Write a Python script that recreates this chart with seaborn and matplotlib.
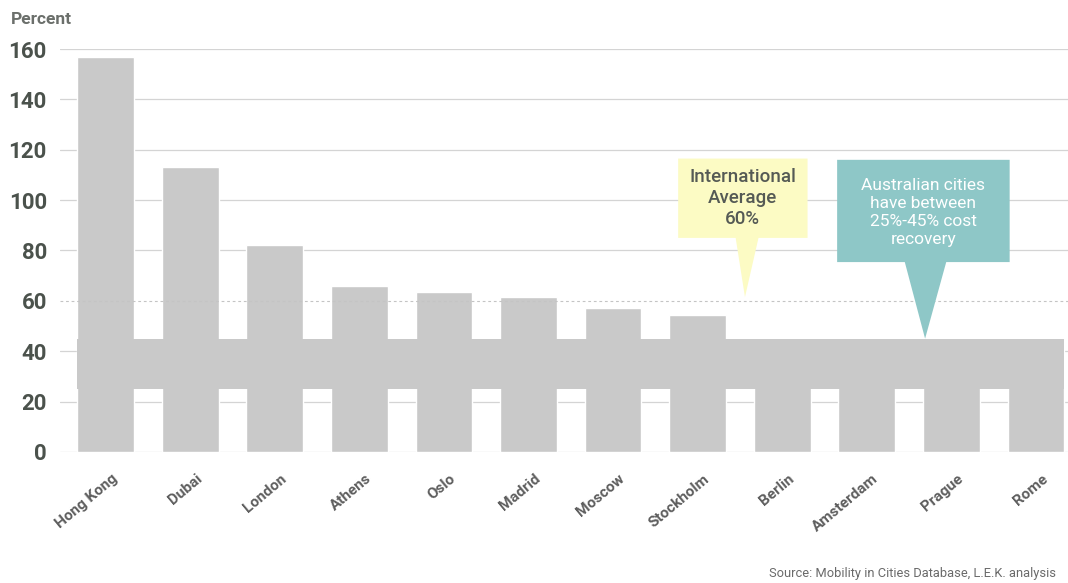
import matplotlib
matplotlib.use("Agg")
import matplotlib.pyplot as plt
from matplotlib.patches import Polygon
from matplotlib.transforms import ScaledTranslation
import seaborn as sns
import pandas as pd

cities = ["Hong Kong", "Dubai", "London", "Athens", "Oslo", "Madrid",
          "Moscow", "Stockholm", "Berlin", "Amsterdam", "Prague", "Rome"]
recovery = [157, 113, 82, 66, 63.5, 61.5, 57, 54.5, 45, 45, 45, 45]
yticks = [0, 20, 40, 60, 80, 100, 120, 140, 160]
intl_average = 60
aus_low, aus_high = 25, 45

sns.set_theme(style="white")
plt.rcParams["font.family"] = ["Roboto", "DejaVu Sans"]

df = pd.DataFrame({"city": cities, "recovery": recovery})

fig = plt.figure(figsize=(10.68, 5.83), dpi=100)
ax = fig.add_axes([60 / 1068, 131 / 583, 1008 / 1068, 403 / 583])

bar_color = "#c9c9c9"
sns.barplot(data=df, x="city", y="recovery", color=bar_color, width=0.67,
            saturation=1, ax=ax, zorder=2)

# Australian cost-recovery range band across all bars
ax.fill_between([-0.335, len(cities) - 1 + 0.335], aus_low, aus_high,
                color=bar_color, lw=0, zorder=2)

ax.set_ylim(0, 160)
ax.set_xlim(-0.54, len(cities) - 1 + 0.38)
ax.set_yticks(yticks)
for y in yticks:
    if y != intl_average:
        ax.axhline(y, color="#d4d4d4", lw=0.9, zorder=1)
ax.axhline(intl_average, color="#c4c4c4", lw=0.8, ls=(0, (2.5, 2.5)), zorder=3)

ax.set_xlabel("")
ax.set_ylabel("")
for s in ax.spines.values():
    s.set_visible(False)
ax.tick_params(axis="y", length=0, pad=9.5, labelsize=16, labelcolor="#4b524c")
ax.tick_params(axis="x", length=0, pad=18, labelsize=11, labelcolor="#5e5e5e")
for lab in ax.get_yticklabels():
    lab.set_fontweight("bold")
ax.set_xticks(range(len(cities)))
ax.set_xticklabels(cities, rotation=40, ha="right", va="center",
                   rotation_mode="anchor", fontweight="bold")
for lab in ax.get_xticklabels():
    lab.set_transform(lab.get_transform() +
                      ScaledTranslation(0.1, 0, fig.dpi_scale_trans))

fig.text(11 / 1068, 1 - 20 / 583, "Percent", fontsize=12.5, fontweight="bold",
         color="#6b6f6b", va="center", ha="left")
fig.text(1056 / 1068, 1 - 573 / 583,
         "Source: Mobility in Cities Database, L.E.K. analysis",
         fontsize=9.3, color="#6a6a6a", ha="right", va="center")

# Callout: international average
yellow = "#fcfbc4"
ax.add_patch(Polygon([(6.77, 116.5), (8.30, 116.5), (8.30, 85), (7.72, 85),
                      (7.56, 61.5), (7.45, 85), (6.77, 85)],
                     closed=True, facecolor=yellow, edgecolor="none", zorder=4))
ax.text(7.535, 100.8, "International\nAverage\n60%", ha="center", va="center",
        fontsize=13.5, color="#555a55", fontweight="medium", linespacing=1.22,
        zorder=5)

# Callout: Australian cities range
teal = "#8ec7c7"
ax.add_patch(Polygon([(8.65, 116), (10.69, 116), (10.69, 75.4), (9.94, 75.4),
                      (9.69, aus_high), (9.45, 75.4), (8.65, 75.4)],
                     closed=True, facecolor=teal, edgecolor="none", zorder=4))
ax.text(9.67, 95.2, "Australian cities\nhave between\n25%-45% cost\nrecovery",
        ha="center", va="center", fontsize=12.5, color="white",
        linespacing=1.25, zorder=5)

fig.savefig("out.png", dpi=100, facecolor="white")
